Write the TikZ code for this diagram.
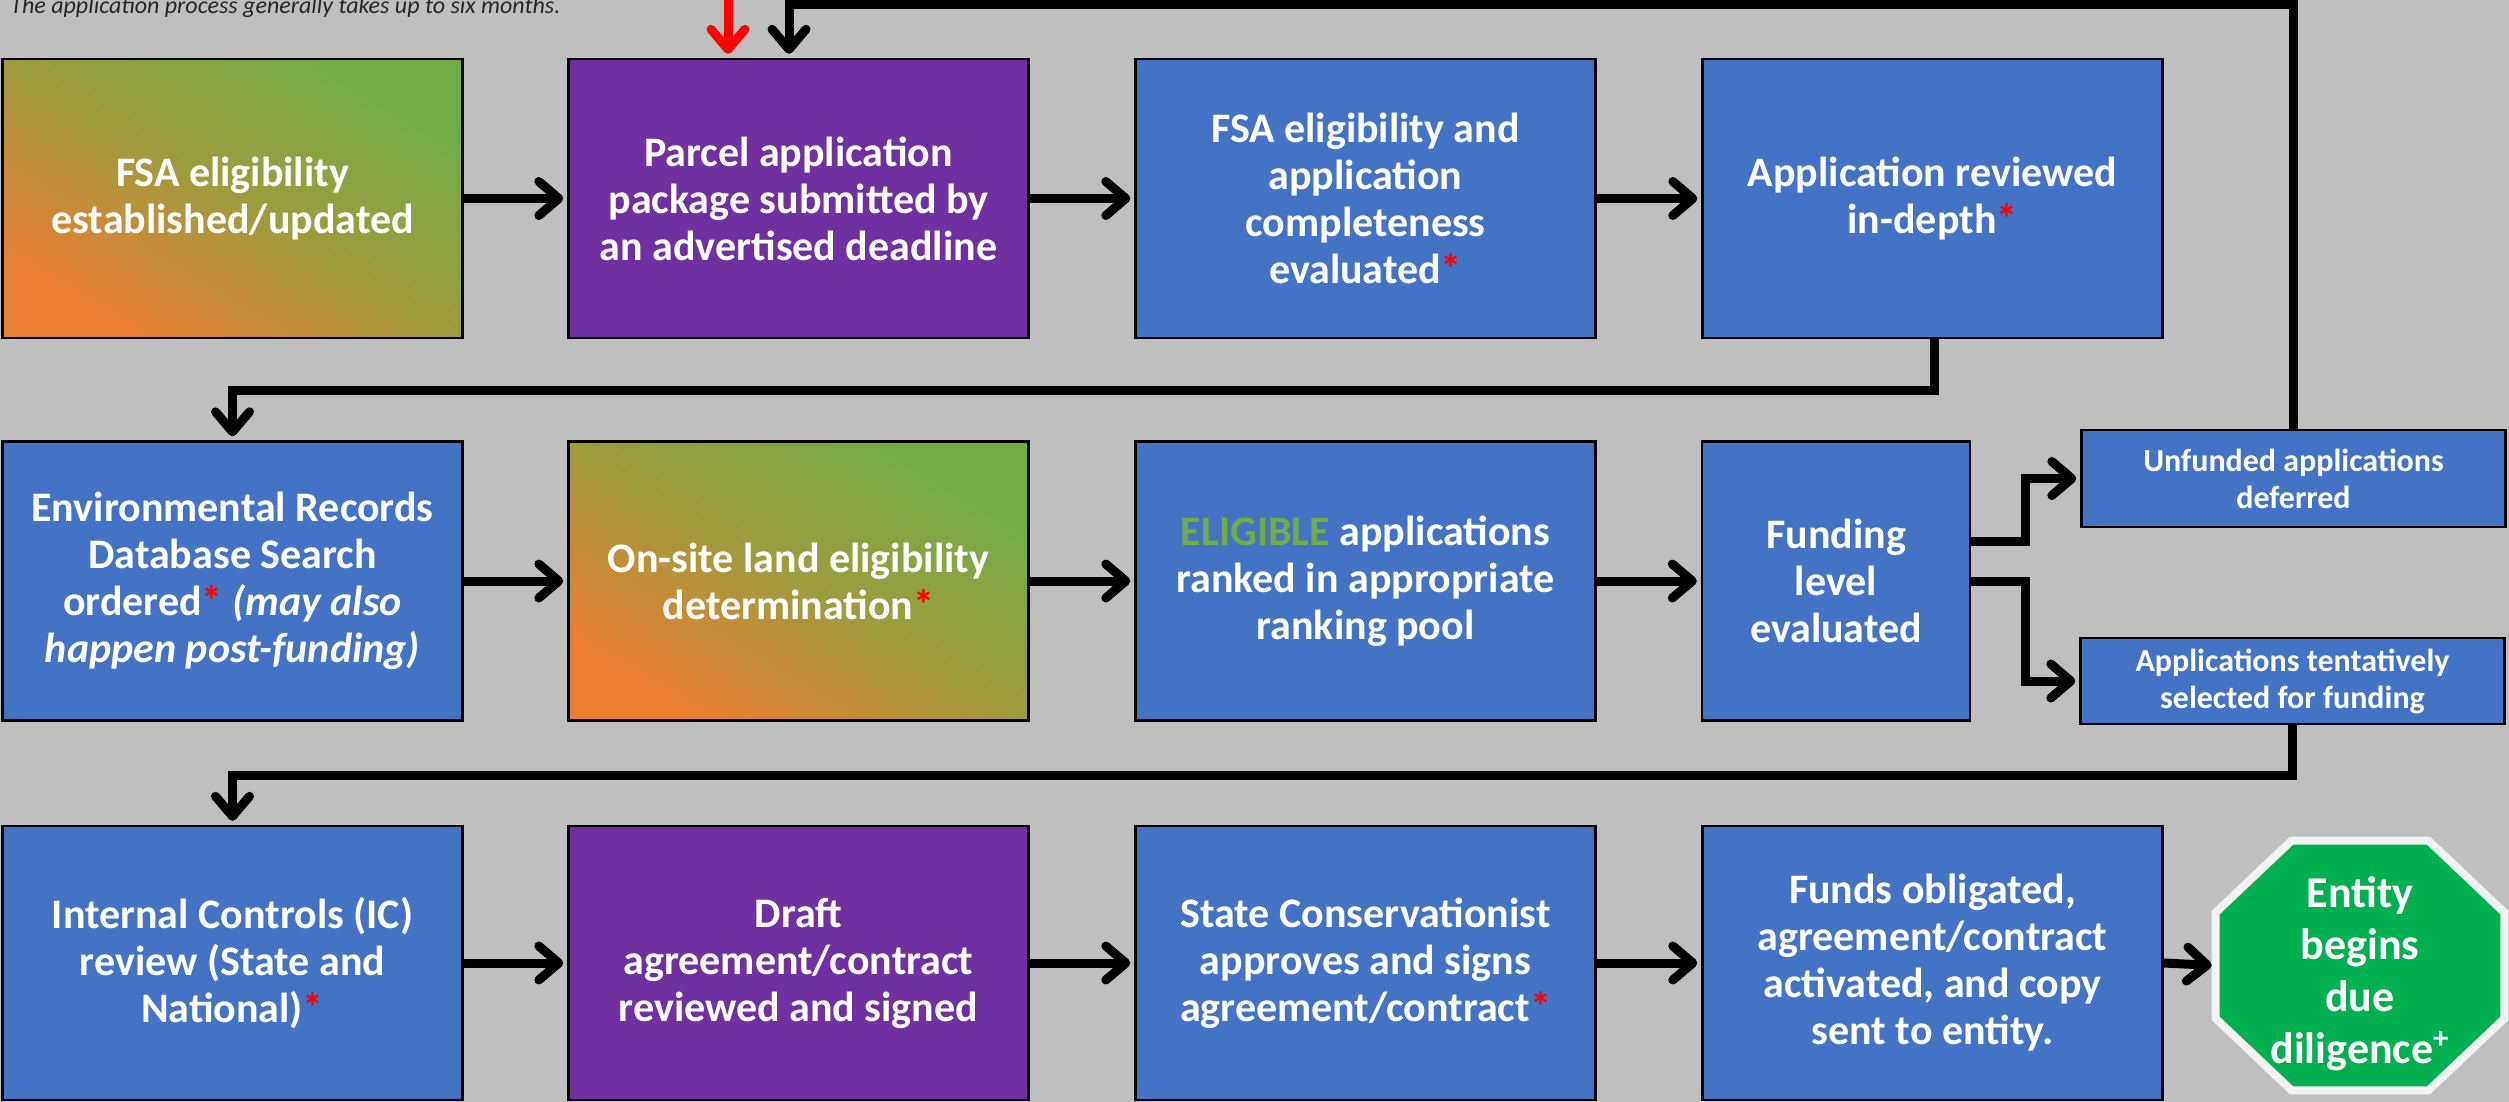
\documentclass[tikz,border=0pt]{standalone}
\usepackage{fontspec}
\setmainfont{Carlito}
\usetikzlibrary{arrows.meta,calc}
\definecolor{bgc}{HTML}{BFBFBF}
\definecolor{nblue}{HTML}{4472C4}
\definecolor{npurple}{HTML}{7030A0}
\definecolor{ngreen}{HTML}{70AD47}
\definecolor{norange}{HTML}{ED7D31}
\definecolor{octgreen}{HTML}{00B050}
\definecolor{octborder}{HTML}{F2F2F2}
\definecolor{nred}{HTML}{FF0000}
\newcommand\mainfs{\fontsize{21}{23.5}\selectfont\bfseries}
\newcommand\smallfs{\fontsize{16}{18.5}\selectfont\bfseries}
\newcommand\octfs{\fontsize{22}{26}\selectfont\bfseries}
\newcommand\notefs{\fontsize{12}{14}\selectfont\itshape}
\newcommand\rast{{\color{nred}*}}
\tikzset{
  box/.style={draw=black, line width=1.2pt, text=white, font=\mainfs, align=center,
    inner sep=0pt, minimum width=230pt, minimum height=139.5pt},
  bluebox/.style={box, fill=nblue},
  purplebox/.style={box, fill=npurple},
  gradbox/.style={box, top color=ngreen, bottom color=norange, middle color=ngreen!62!norange, shading angle=-31},
  smallbox/.style={box, fill=nblue, font=\smallfs, minimum width=212pt},
  arr/.style={line width=4.5pt, shorten >=2pt,
    -{Straight Barb[length=10pt, width=17pt, round]}},
  redarr/.style={arr, draw=nred},
}
\begin{document}
\begin{tikzpicture}[x=0.5pt, y=-0.5pt]
\fill[bgc] (0,0) rectangle (2509,1102);
\useasboundingbox (0,0) rectangle (2509,1102);

\node[anchor=base west, inner sep=0pt, font=\notefs, text=black!85] (note) at (10,14)
  {The application process generally takes up to six months.};

% row 1
\node[gradbox]   (b1) at (232.5,198.5) {FSA eligibility\\established/updated};
\node[purplebox] (b2) at (798.5,198.5) {Parcel application\\package submitted by\\an advertised deadline};
\node[bluebox]   (b3) at (1365.5,198.5) {FSA eligibility and\\application\\completeness\\evaluated\rast};
\node[bluebox]   (b4) at (1932.5,198.5) {Application reviewed\\in-depth\rast};

% row 2
\node[bluebox]   (b5) at (232.5,581) {Environmental Records\\Database Search\\ordered\rast{} \textit{(may also}\\\textit{happen post-funding)}};
\node[gradbox]   (b6) at (798.5,581) {On-site land eligibility\\determination\rast};
\node[bluebox]   (b7) at (1365.5,581) {{\color{ngreen}ELIGIBLE} applications\\ranked in appropriate\\ranking pool};
\node[bluebox, minimum width=134pt] (fund) at (1836,581) {Funding\\level\\evaluated};
\node[smallbox, minimum height=48.5pt] (unf) at (2293.5,478.5) {Unfunded applications\\deferred};
\node[smallbox, minimum height=43pt] (tent) at (2292.5,681) {Applications tentatively\\selected for funding};

% row 3
\node[bluebox, minimum height=137pt]   (b9)  at (232.5,963) {Internal Controls (IC)\\review (State and\\National)\rast};
\node[purplebox, minimum height=137pt] (b10) at (798.5,963) {Draft\\agreement/contract\\reviewed and signed};
\node[bluebox, minimum height=137pt]   (b11) at (1365.5,963) {State Conservationist\\approves and signs\\agreement/contract\rast};
\node[bluebox, minimum height=137pt]   (b12) at (1932.5,963) {Funds obligated,\\agreement/contract\\activated, and copy\\sent to entity.};

% octagon
\node[inner sep=0pt, minimum width=144pt, minimum height=124.5pt]
  (oct) at (2360,965.5) {};
\fill[octgreen, draw=octborder, line width=4pt, line join=miter]
  ($(oct.north west)+(76,0)$) -- ($(oct.north east)+(-76,0)$) --
  ($(oct.north east)+(0,72)$) -- ($(oct.south east)+(0,-72)$) --
  ($(oct.south east)+(-76,0)$) -- ($(oct.south west)+(76,0)$) --
  ($(oct.south west)+(0,-72)$) -- ($(oct.north west)+(0,72)$) -- cycle;
\node[text=white, font=\octfs, align=center, inner sep=0pt] (octtext) at ($(oct.center)+(0,8)$)
  {Entity\\begins\\due\\diligence\textsuperscript{+}};

% connectors
\draw[arr] (b1) -- (b2);
\draw[arr] (b2) -- (b3);
\draw[arr] (b3) -- (b4);
\draw[arr] ([xshift=0.75pt]b4.south) -- ++(0,51) -| (b5.north);
\draw[arr] (b5) -- (b6);
\draw[arr] (b6) -- (b7);
\draw[arr] (b7) -- (fund);
\draw[arr] ([yshift=20pt]fund.east) -- ++(54,0) |- (unf.west);
\draw[arr] (fund.east) -- ++(54,0) |- (tent.west);
\draw[arr] (unf.north) -- ++(0,-424) -| ([xshift=-4.75pt]b2.north);
\coordinate (redstart) at (728,-6);
\draw[redarr] (redstart) -- ([xshift=-35.25pt]b2.north);
\draw[arr] (tent.south) -- ++(0,50) -| (b9.north);
\draw[arr] (b9) -- (b10);
\draw[arr] (b10) -- (b11);
\draw[arr] (b11) -- (b12);
\draw[arr] (b12.east) -- (oct.west);
\end{tikzpicture}
\end{document}
